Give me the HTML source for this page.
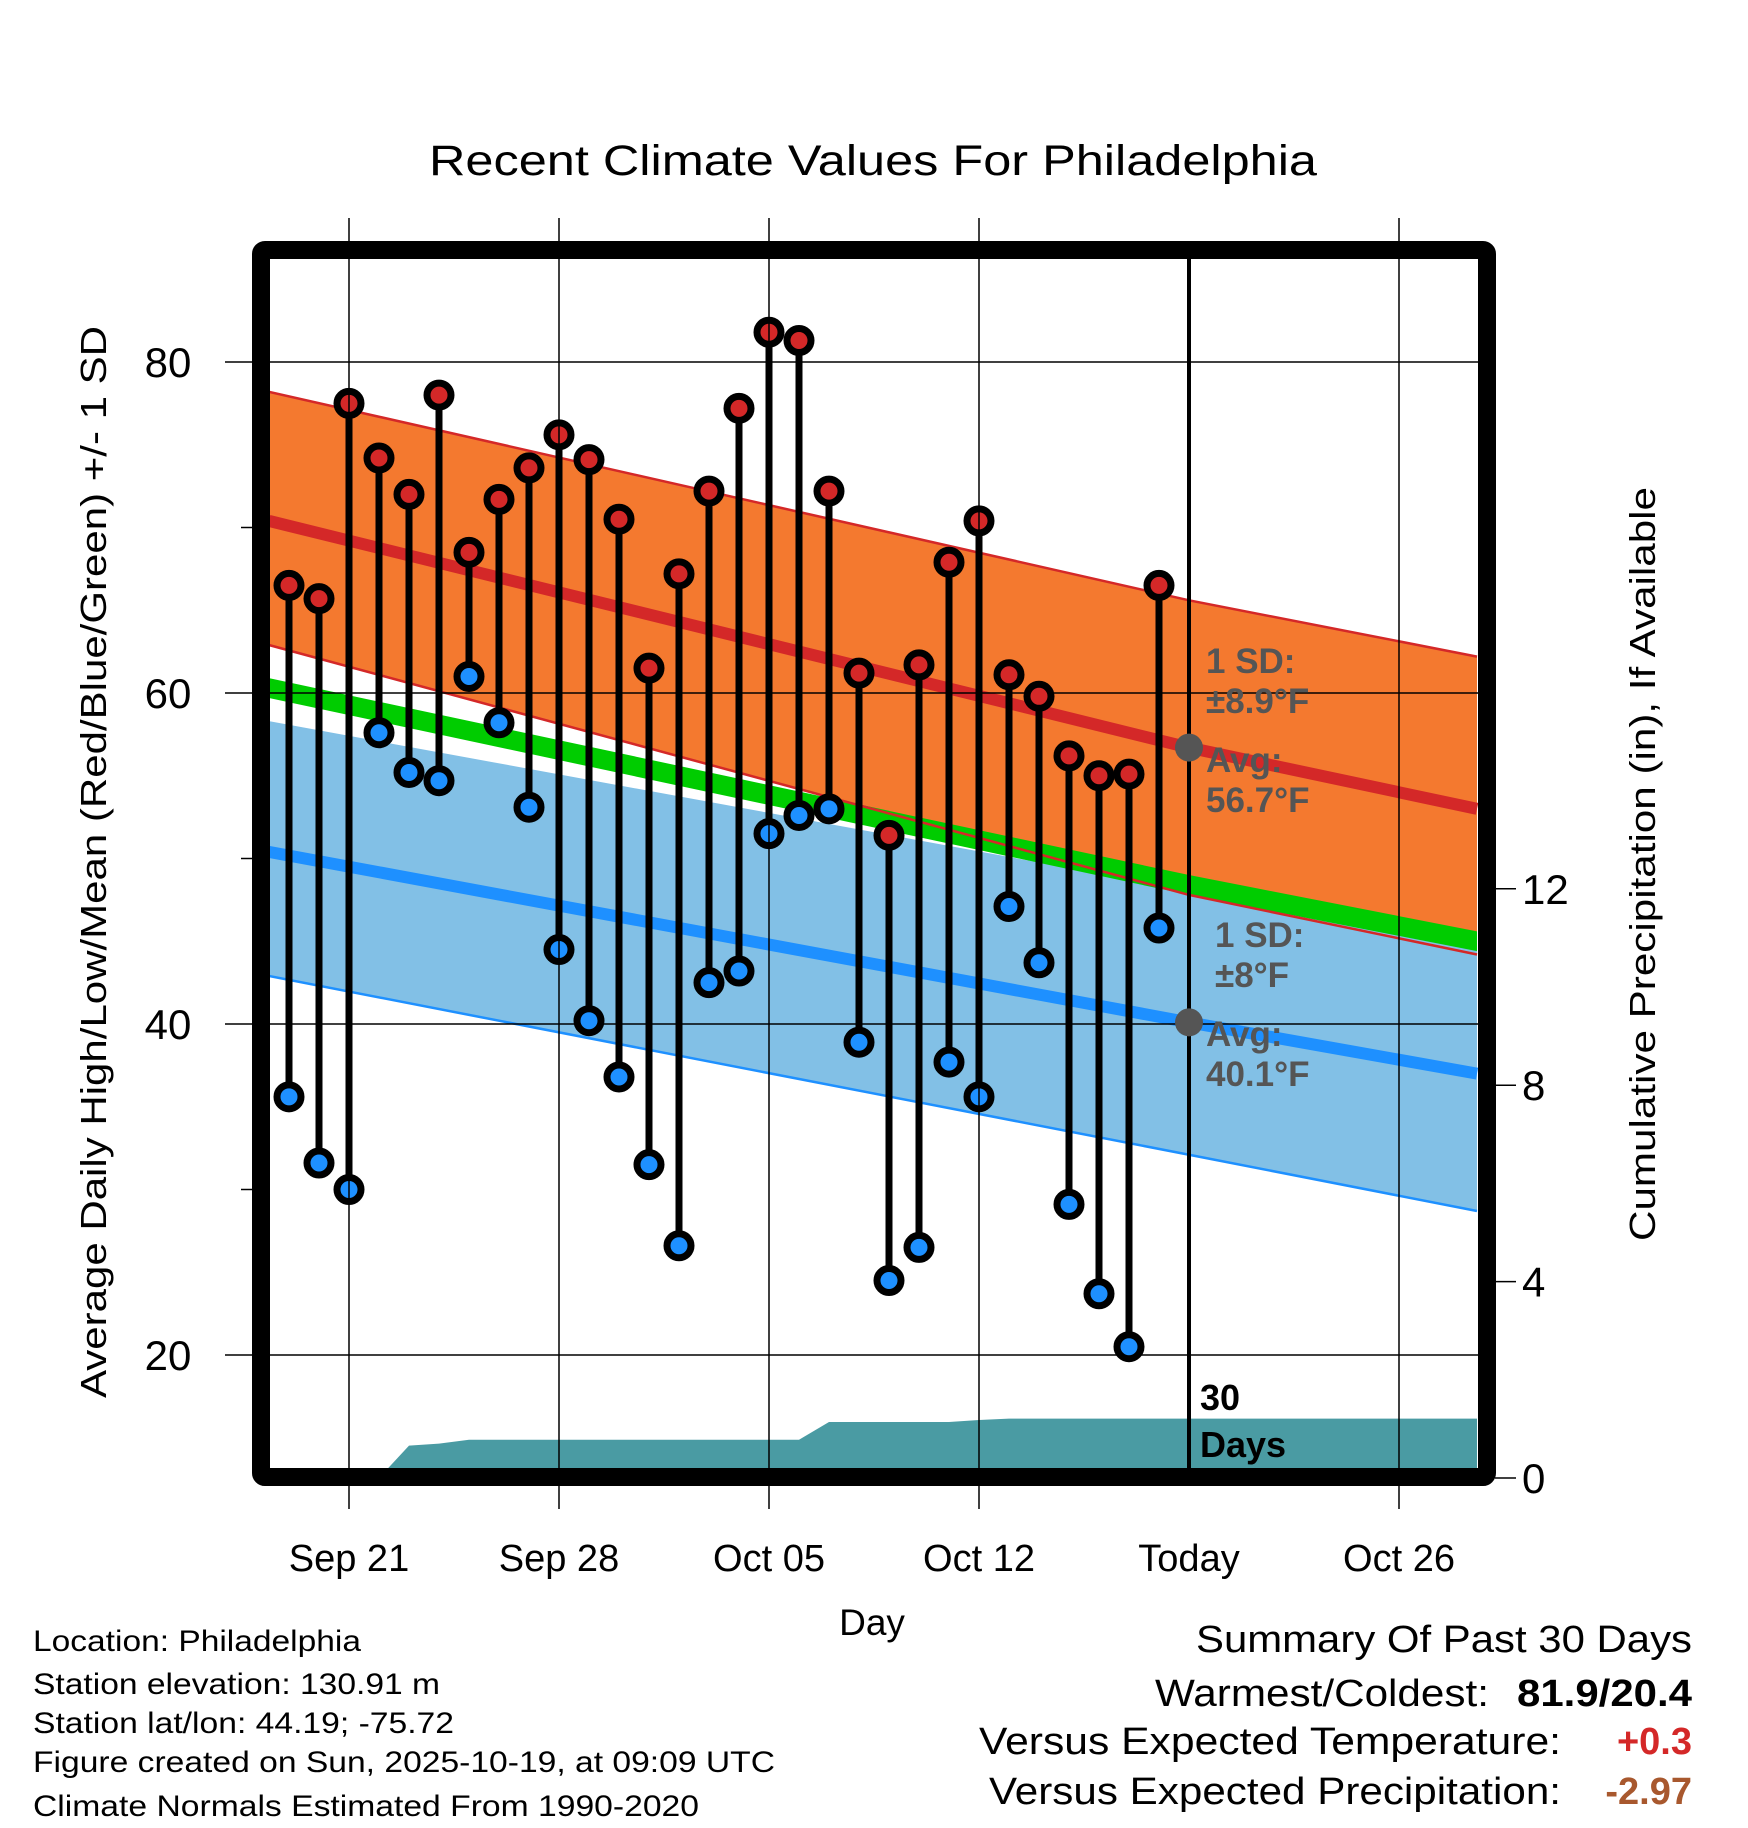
<!DOCTYPE html>
<html><head><meta charset="utf-8"><style>
html,body{margin:0;padding:0;background:#fff;}
svg{display:block;font-family:"Liberation Sans",sans-serif;}
</style></head><body>
<svg id="chart" width="1748" height="1828" viewBox="0 0 1748 1828" xmlns="http://www.w3.org/2000/svg">
<rect x="0" y="0" width="1748" height="1828" fill="#fff"/>
<text x="873" y="175" font-size="43" text-anchor="middle" textLength="888" lengthAdjust="spacingAndGlyphs">Recent Climate Values For Philadelphia</text>
<g id="plot"></g>
<g id="axes"></g>
<text x="872" y="1635" font-size="37" text-anchor="middle">Day</text>
<text transform="translate(106,862) rotate(-90)" font-size="36" text-anchor="middle" textLength="1072" lengthAdjust="spacingAndGlyphs">Average Daily High/Low/Mean (Red/Blue/Green) +/- 1 SD</text>
<text transform="translate(1655,864) rotate(-90)" font-size="36" text-anchor="middle" textLength="754" lengthAdjust="spacingAndGlyphs">Cumulative Precipitation (in), If Available</text>
<g font-size="30">
<text x="33" y="1651" textLength="328" lengthAdjust="spacingAndGlyphs">Location: Philadelphia</text>
<text x="33" y="1694" textLength="407" lengthAdjust="spacingAndGlyphs">Station elevation: 130.91 m</text>
<text x="33" y="1733" textLength="421" lengthAdjust="spacingAndGlyphs">Station lat/lon: 44.19; -75.72</text>
<text x="33" y="1772" textLength="742" lengthAdjust="spacingAndGlyphs">Figure created on Sun, 2025-10-19, at 09:09 UTC</text>
<text x="33" y="1816" textLength="666" lengthAdjust="spacingAndGlyphs">Climate Normals Estimated From 1990-2020</text>
</g>
<g font-size="38">
<text x="1692" y="1652" text-anchor="end" textLength="496" lengthAdjust="spacingAndGlyphs">Summary Of Past 30 Days</text>
<text x="1489" y="1706" text-anchor="end" textLength="334" lengthAdjust="spacingAndGlyphs">Warmest/Coldest:</text>
<text x="1692" y="1706" text-anchor="end" font-weight="bold" textLength="175" lengthAdjust="spacingAndGlyphs">81.9/20.4</text>
<text x="1561" y="1754" text-anchor="end" textLength="582" lengthAdjust="spacingAndGlyphs">Versus Expected Temperature:</text>
<text x="1692" y="1754" text-anchor="end" font-weight="bold" fill="#d42828">+0.3</text>
<text x="1561" y="1804" text-anchor="end" textLength="572" lengthAdjust="spacingAndGlyphs">Versus Expected Precipitation:</text>
<text x="1692" y="1804" text-anchor="end" font-weight="bold" fill="#a8582e">-2.97</text>
</g>
</svg>
<script>
// ---- data ----
const dayLabels = ["Sep 21","Sep 28","Oct 05","Oct 12","Today","Oct 26"];
const dayTicks = [0,7,14,21,28,35];           // days since Sep 21
const tempTicks = [20,40,60,80];
const tempMinor = [30,50,70];
const precipTicks = [0,4,8,12];
const highs = [66.5,65.7,77.5,74.2,72.0,78.0,68.5,71.7,73.6,75.6,74.1,70.5,61.5,67.2,72.2,77.2,81.8,81.3,72.2,61.2,51.4,61.7,67.9,70.4,61.1,59.8,56.2,55.0,55.1,66.5];
const lows  = [35.6,31.6,30.0,57.6,55.2,54.7,61.0,58.2,53.1,44.5,40.2,36.8,31.5,26.6,42.5,43.2,51.5,52.6,53.0,38.9,24.5,26.5,37.7,35.6,47.1,43.7,29.1,23.7,20.5,45.8];
const precip = [0,0,0,0,0.66,0.70,0.78,0.78,0.78,0.78,0.78,0.78,0.78,0.78,0.78,0.78,0.78,0.78,1.14,1.14,1.14,1.14,1.14,1.18,1.21,1.21,1.21,1.21,1.21,1.21];
const firstDay = -2;                            // Sep 19
const normDays = [-2.67,28,37.6];
const highUpper = [78.2,65.6,62.2];
const highMean  = [70.4,56.7,53.0];
const highLower = [62.9,47.8,44.2];
const lowUpper  = [58.3,48.1,45.0];
const lowMean   = [50.4,40.1,37.0];
const lowLower  = [42.9,32.1,28.7];
const meanNorm  = [60.3,48.4,45.0];
const todayHighAvg = 56.7, todayLowAvg = 40.1;

// ---- scales ----
const X = d => 349 + 30*d;
const Y = t => 362 + (80 - t)*16.55;
const P = p => 1478 - p*49.1;
const L=269, R=1478, T=259, B=1468;
const NS="http://www.w3.org/2000/svg";
function mk(tag, attrs, parent){const e=document.createElementNS(NS,tag);for(const k in attrs)e.setAttribute(k,attrs[k]);parent.appendChild(e);return e;}
const plot=document.getElementById('plot'), axes=document.getElementById('axes');
const clip=mk('clipPath',{id:'pc'},plot); mk('rect',{x:L,y:T,width:R-L,height:B-T},clip);
const g=mk('g',{'clip-path':'url(#pc)'},plot);
const pts=(ds,vs)=>ds.map((d,i)=>X(d)+','+Y(vs[i])).join(' ');
const band=(up,lo)=>pts(normDays,up)+' '+pts(normDays.slice().reverse(),lo.slice().reverse());

let e;
e=mk('polygon',{points:band(highUpper,highLower),fill:'#f4792f'},g);


e=mk('polygon',{points:band(lowUpper,lowLower),fill:'#82c0e6'},g);


e=mk('polygon',{points:band(meanNorm.map(v=>v+0.6),meanNorm.map(v=>v-0.6)),fill:'#00cc00'},g);


[[highUpper,'#d42828',2.5,'high-upper-line'],[highLower,'#d42828',2.5,'high-lower-line'],[lowLower,'#1e90ff',2.5,'low-lower-line'],[highMean,'#d42828',12,'high-mean-line'],[lowMean,'#1e90ff',12,'low-mean-line']].forEach(a=>{
  e=mk('polyline',{points:pts(normDays,a[0]),fill:'none',stroke:a[1],'stroke-width':a[2]},g);
  
  
});
// precip area
let pp=[X(firstDay)+','+P(0)];
precip.forEach((p,i)=>pp.push(X(firstDay+i)+','+P(p)));
pp.push(X(37.6)+','+P(precip[precip.length-1]));pp.push(X(37.6)+','+P(0));
e=mk('polygon',{points:pp.join(' '),fill:'#4a9ba3'},g);


// grid
tempTicks.forEach(t=>{e=mk('line',{x1:L,x2:R,y1:Y(t),y2:Y(t),stroke:'#000','stroke-width':1.5},g);
  
  });
dayTicks.forEach((d,i)=>{e=mk('line',{x1:X(d),x2:X(d),y1:218,y2:1509,stroke:'#000','stroke-width':i==4?4:1.5},i==4?g:axes);
  
  });
// stems & markers
highs.forEach((h,i)=>{
  const x=X(firstDay+i);
  e=mk('line',{x1:x,x2:x,y1:Y(h),y2:Y(lows[i]),stroke:'#000','stroke-width':7},g);
  
  
  [[h,'#d42828','high'],[lows[i],'#1e90ff','low']].forEach(m=>{
    e=mk('circle',{cx:x,cy:Y(m[0]),r:12,fill:m[1],stroke:'#000','stroke-width':7},g);
    
    
  });
});
// today avg dots & labels
[[todayHighAvg,'today-high-avg-dot'],[todayLowAvg,'today-low-avg-dot']].forEach(a=>{
  e=mk('circle',{cx:X(28),cy:Y(a[0]),r:14,fill:'#555'},g);
  
  
});
const labs=[["1 SD:",1206,673],["±8.9°F",1206,713],["Avg:",1206,772],[todayHighAvg.toFixed(1)+"°F",1206,812],["1 SD:",1215,947],["±8°F",1215,987],["Avg:",1206,1046],[todayLowAvg.toFixed(1)+"°F",1206,1086]];
labs.forEach((l,i)=>{e=mk('text',{x:l[1],y:l[2],'font-size':35,'font-weight':'bold',fill:'#555'},g);e.textContent=l[0];
  
  });
[["30",1410],["Days",1457]].forEach((l,i)=>{e=mk('text',{x:1200,y:l[1],'font-size':36,'font-weight':'bold',fill:'#000'},g);e.textContent=l[0];
  
  });
// frame
e=mk('rect',{x:L-8,y:T-9,width:R-L+17,height:B-T+18,fill:'none',stroke:'#000','stroke-width':18,rx:4},plot);


// axis ticks/labels
tempTicks.forEach(t=>{mk('line',{x1:225,x2:253,y1:Y(t),y2:Y(t),stroke:'#000','stroke-width':1.5},axes);
  e=mk('text',{x:168,y:Y(t)+15,'font-size':42,'text-anchor':'middle'},axes);e.textContent=t;
  
  });
tempMinor.forEach(t=>mk('line',{x1:241,x2:253,y1:Y(t),y2:Y(t),stroke:'#000','stroke-width':1.5},axes));
precipTicks.forEach(p=>{mk('line',{x1:1495,x2:1516,y1:P(p),y2:P(p),stroke:'#000','stroke-width':1.5},axes);
  e=mk('text',{x:1522,y:P(p)+15,'font-size':42},axes);e.textContent=p;
  
  });
dayLabels.forEach((s,i)=>{e=mk('text',{x:X(dayTicks[i]),y:1571,'font-size':38,'text-anchor':'middle'},axes);e.textContent=s;
  
  });
</script>
</body></html>
